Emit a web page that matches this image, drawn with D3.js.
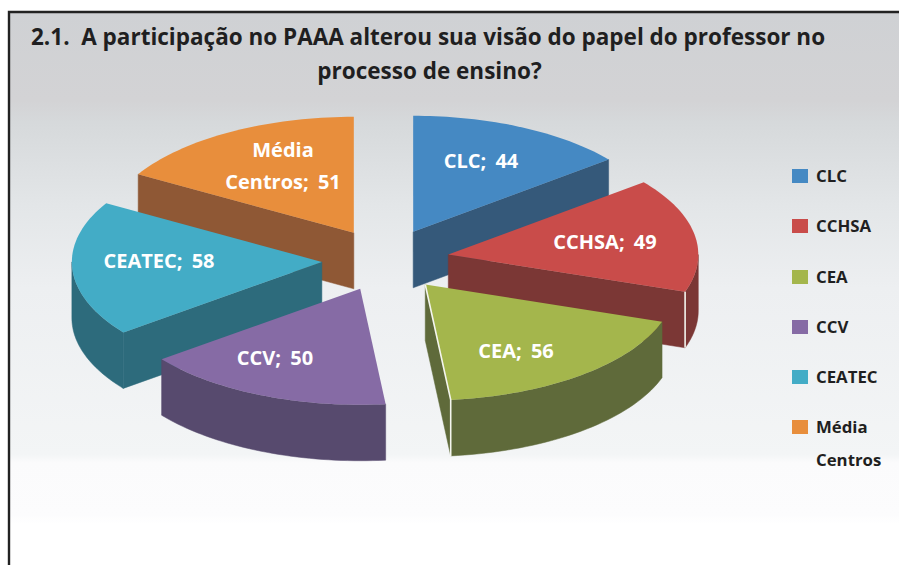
<!DOCTYPE html>
<html><head><meta charset="utf-8">
<script src="https://cdn.jsdelivr.net/npm/d3@7"></script>
<style>html,body{margin:0;padding:0;background:#fff}svg{display:block}text{font-family:"Open Sans",sans-serif;font-weight:700}</style>
</head><body><svg id="c" width="899" height="565"></svg>
<script>
const categories=["CLC","CCHSA","CEA","CCV","CEATEC","Média Centros"];
const values=[44,49,56,50,58,51];
const topColors=["#4589c3","#c94c4a","#a4b64c","#866ba5","#43acc6","#e88e3c"];
const wallColors=["#35597a","#7b3735","#5f6a3a","#574a6e","#2d6b7c","#8f5835"];
const titleLines=["2.1.  A participação no PAAA alterou sua visão do papel do professor no","processo de ensino?"];
const labelLines=[["CLC; 44"],["CCHSA; 49"],["CEA; 56"],["CCV; 50"],["CEATEC; 58"],["Média","Centros; 51"]];
const labelPos=[[481,161],[605,242],[516,351],[275,358],[159,261],[283,150]];
const legendLines=[["CLC"],["CCHSA"],["CEA"],["CCV"],["CEATEC"],["Média","Centros"]];
const legendY=[176,226,277,327,377,427];

const W=899,H=565,cx=385.5,cy=260,rx=250,ry=116,depth=56,explodeX=0.255,explodeY=0.27;
const svg=d3.select("#c");
const defs=svg.append("defs");
const g=defs.append("linearGradient").attr("id","bg").attr("x1",0).attr("x2",0).attr("y1",0).attr("y2",1);
[[0,"#cfd1d4"],[.16,"#d3d3d5"],[.2,"#d6d9db"],[.35,"#e3e6e8"],[.5,"#edeff1"],[.8,"#f3f5f6"],[.815,"#fbfbfc"],[.91,"#fcfcfd"],[.925,"#ffffff"],[1,"#ffffff"]]
 .forEach(d=>g.append("stop").attr("offset",d[0]).attr("stop-color",d[1]));
svg.append("rect").attr("x",9).attr("y",12).attr("width",W-9).attr("height",H-12).attr("fill","url(#bg)");
svg.append("path").attr("d",`M9,${H}V12H${W}`).attr("fill","none").attr("stroke","#222").attr("stroke-width",2.4);

svg.selectAll("text.title").data(titleLines).join("text").attr("class","title")
 .attr("x",(d,i)=>i?429.5:31).attr("y",(d,i)=>i?79:45).attr("text-anchor",(d,i)=>i?"middle":"start")
 .attr("font-size",22.5).attr("fill","#1f1f21").style("white-space","pre").text(d=>d);

const pie=d3.pie().sort(null).value(d=>d);
const arcs=pie(values).map((a,i)=>({...a,i}));
const line=d3.line();
arcs.forEach(a=>{
  const mid=(a.startAngle+a.endAngle)/2;
  a.ox=cx+explodeX*rx*Math.sin(mid);
  a.oy=cy-explodeY*ry*Math.cos(mid);
  a.cosMid=Math.cos(mid);
});
const pt=(a,t,dz=0)=>[a.ox+rx*Math.sin(t),a.oy-ry*Math.cos(t)+dz];
const samples=(t0,t1)=>d3.range(0,41).map(k=>t0+(t1-t0)*k/40);
const order=arcs.slice().sort((p,q)=>d3.descending(p.cosMid,q.cosMid));
const sl=svg.selectAll("g.slice").data(order).join("g").attr("class","slice");
sl.each(function(a){
  const s=d3.select(this),wall=wallColors[a.i],apex=[a.ox,a.oy],ap2=[a.ox,a.oy+depth];
  const face=(t)=>{const P=pt(a,t),Q=pt(a,t,depth);
    s.append("path").attr("d",line([apex,P,Q,ap2])+"Z").attr("fill",wall).attr("stroke",wall).attr("stroke-width",.5);};
  if(Math.sin(a.startAngle)<-1e-6) face(a.startAngle);
  if(Math.sin(a.endAngle)>1e-6) face(a.endAngle);
  const lo=Math.max(a.startAngle,Math.PI/2),hi=Math.min(a.endAngle,Math.PI*1.5);
  if(hi>lo){
    const ts=samples(lo,hi);
    const up=ts.map(t=>pt(a,t)),dn=ts.map(t=>pt(a,t,depth)).reverse();
    s.append("path").attr("d",line(up.concat(dn))+"Z").attr("fill",wall).attr("stroke",wall).attr("stroke-width",.5);
  }
  const ts=samples(a.startAngle,a.endAngle);
  s.append("path").attr("d",line([apex].concat(ts.map(t=>pt(a,t))))+"Z").attr("fill",topColors[a.i]);
  if(a.i===1||a.i===2){
    const P=pt(a,a.endAngle),Q=pt(a,a.endAngle,depth);
    s.append("path").attr("d",line(a.i===2?[apex,P,Q]:[P,Q])).attr("fill","none").attr("stroke","#f4f5ee").attr("stroke-width",1.6);
  }
});

labelLines.forEach((ls,i)=>{
  ls.forEach((t,j)=>svg.append("text").attr("x",labelPos[i][0]).attr("y",labelPos[i][1]+j*32+7)
   .attr("text-anchor","middle").attr("font-size",20).attr("word-spacing",4).attr("fill","#fff").text(t));
});
categories.forEach((c,i)=>{
  svg.append("rect").attr("x",792).attr("y",legendY[i]-7).attr("width",16).attr("height",14).attr("fill",topColors[i]);
  legendLines[i].forEach((t,j)=>svg.append("text").attr("x",816).attr("y",legendY[i]+6+j*33)
   .attr("font-size",16.8).attr("fill","#1f1f21").text(t));
});
</script></body></html>
